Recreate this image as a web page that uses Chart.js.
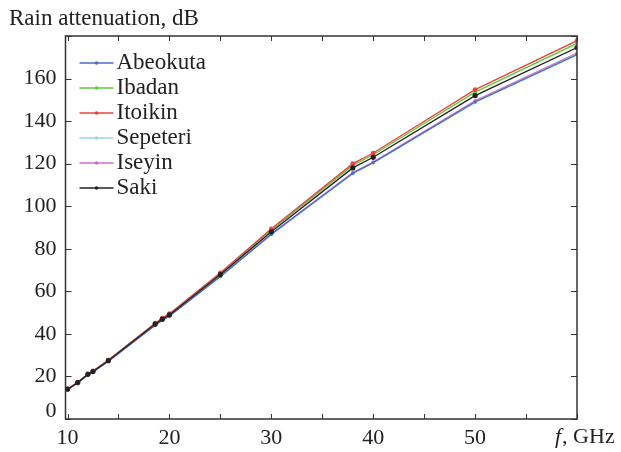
<!DOCTYPE html>
<html>
<head>
<script src="https://cdn.jsdelivr.net/npm/chart.js@4.4.1/dist/chart.umd.min.js"></script>
<style>
  body{margin:0;background:#fff;}
  #wrap{width:621px;height:452px;}
</style>
</head>
<body>
<div id="wrap"><canvas id="myChart" width="621" height="452"></canvas></div>
<script>
// frequency, GHz
const freqs = [10, 11, 12, 12.5, 14, 18.6, 19.3, 20, 25, 30, 38, 40, 50, 60];
// rain attenuation, dB
const abeokuta = [13.8, 17.0, 20.8, 22.1, 27.1, 44.1, 46.4, 48.4, 67.0, 86.8, 115.5, 120.5, 149.0, 171.3];
const ibadan   = [14.0, 17.2, 21.1, 22.5, 27.6, 44.8, 47.2, 49.2, 68.3, 88.8, 119.2, 124.2, 153.6, 176.5];
const itoikin  = [14.1, 17.3, 21.2, 22.6, 27.7, 45.0, 47.4, 49.5, 68.7, 89.4, 120.0, 125.0, 154.8, 177.8];
const sepeteri = [13.8, 16.9, 20.7, 22.1, 27.0, 44.0, 46.3, 48.3, 66.9, 86.6, 115.3, 120.3, 148.8, 171.0];
const iseyin   = [13.9, 17.0, 20.8, 22.2, 27.2, 44.2, 46.5, 48.5, 67.2, 87.0, 115.8, 120.8, 149.5, 172.0];
const saki     = [14.0, 17.1, 21.0, 22.3, 27.4, 44.6, 46.9, 48.9, 67.9, 88.0, 118.0, 123.0, 152.0, 174.6];

const xTicks = [10, 15, 20, 25, 30, 35, 40, 45, 50, 55, 60];
const yTicks = [0, 20, 40, 60, 80, 100, 120, 140, 160, 180];

const FONT = "'Liberation Serif', 'Times New Roman', serif";

const pts = (arr) => freqs.map((f, i) => ({x: f, y: arr[i]}));

function ds(label, data, color, order, radius){
  return {
    label: label,
    data: pts(data),
    borderColor: color,
    backgroundColor: color,
    borderWidth: 1.3,
    pointRadius: radius,
    pointHoverRadius: radius,
    pointBorderWidth: 0,
    tension: 0,
    order: order
  };
}

const datasets = [
  ds('Abeokuta', abeokuta, '#4a6cc8', 3, 1.6),
  ds('Ibadan', ibadan, '#62c83c', 2, 2),
  ds('Itoikin', itoikin, '#e8453e', 1, 2.4),
  ds('Sepeteri', sepeteri, '#96d8dc', 4, 1.8),
  ds('Iseyin', iseyin, '#cc70cc', 3, 1.8),
  ds('Saki', saki, '#222222', 0, 2.6)
];

// frame, inward ticks, texts and legend
const decor = {
  id: 'decor',
  afterDraw(chart){
    const c = chart.ctx;
    const a = chart.chartArea;
    const xs = chart.scales.x, ys = chart.scales.y;
    c.save();
    c.strokeStyle = '#333';
    c.lineWidth = 1.5;
    c.strokeRect(a.left, a.top, a.right - a.left, a.bottom - a.top);
    c.lineWidth = 1;
    xTicks.forEach(v => {
      const px = Math.round(xs.getPixelForValue(v)) + 0.5;
      c.beginPath();
      c.moveTo(px, a.bottom); c.lineTo(px, a.bottom - 5);
      c.moveTo(px, a.top); c.lineTo(px, a.top + 5);
      c.stroke();
    });
    yTicks.forEach(v => {
      const py = Math.round(ys.getPixelForValue(v)) + 0.5;
      c.beginPath();
      c.moveTo(a.left, py); c.lineTo(a.left + 6, py);
      c.moveTo(a.right, py); c.lineTo(a.right - 6, py);
      c.stroke();
    });

    c.fillStyle = '#222';
    c.textBaseline = 'alphabetic';
    c.font = '23px ' + FONT;
    c.textAlign = 'left';
    c.fillText('Rain attenuation, dB', 9, 25);
    c.textBaseline = 'middle';
    // "0" sits a bit above the axis
    c.font = '22px ' + FONT;
    c.textAlign = 'right';
    c.fillText('0', a.left - 9, ys.getPixelForValue(0) - 8);
    // x axis name at the 60 GHz position
    c.textAlign = 'left';
    const x60 = xs.getPixelForValue(60) - 22;
    c.font = 'italic 22px ' + FONT;
    c.fillText('f', x60, a.bottom + 18);
    const fw = c.measureText('f').width;
    c.font = '22px ' + FONT;
    c.fillText(', GHz', x60 + fw + 1, a.bottom + 18);

    // legend
    let ly = a.top + 27;
    datasets.forEach(d => {
      c.strokeStyle = d.borderColor;
      c.lineWidth = 1.4;
      c.beginPath();
      c.moveTo(a.left + 14, ly); c.lineTo(a.left + 48, ly);
      c.stroke();
      c.fillStyle = d.borderColor;
      c.beginPath();
      c.arc(a.left + 31, ly, 1.8, 0, Math.PI * 2);
      c.fill();
      c.fillStyle = '#222';
      c.font = '23px ' + FONT;
      c.fillText(d.label, a.left + 51, ly);
      ly += 25;
    });
    c.restore();
  }
};

const config = {
  type: 'line',
  data: {datasets: datasets},
  options: {
    responsive: false,
    animation: false,
    layout: {padding: {top: 36, right: 44, left: 0, bottom: 0}},
    plugins: {legend: {display: false}, tooltip: {enabled: false}},
    scales: {
      x: {
        type: 'linear',
        min: 9.8,
        max: 60,
        afterBuildTicks: (s) => { s.ticks = xTicks.map(v => ({value: v})); },
        afterFit: (s) => { s.height = 33; },
        grid: {display: false, drawTicks: false},
        border: {display: false},
        ticks: {
          padding: 6,
          color: '#222',
          font: {family: FONT, size: 22},
          maxRotation: 0,
          autoSkip: false,
          callback: (v) => (v % 10 === 0 && v < 60) ? String(v) : ''
        }
      },
      y: {
        min: 0,
        max: 180,
        afterBuildTicks: (s) => { s.ticks = yTicks.map(v => ({value: v})); },
        afterFit: (s) => { s.width = 65.5; },
        grid: {display: false, drawTicks: false},
        border: {display: false},
        ticks: {
          padding: 9,
          color: '#222',
          font: {family: FONT, size: 22},
          callback: (v) => (v === 0 || v === 180) ? '' : String(v)
        }
      }
    }
  },
  plugins: [decor]
};

let myChart = new Chart(document.getElementById('myChart'), config);
</script>
</body>
</html>
